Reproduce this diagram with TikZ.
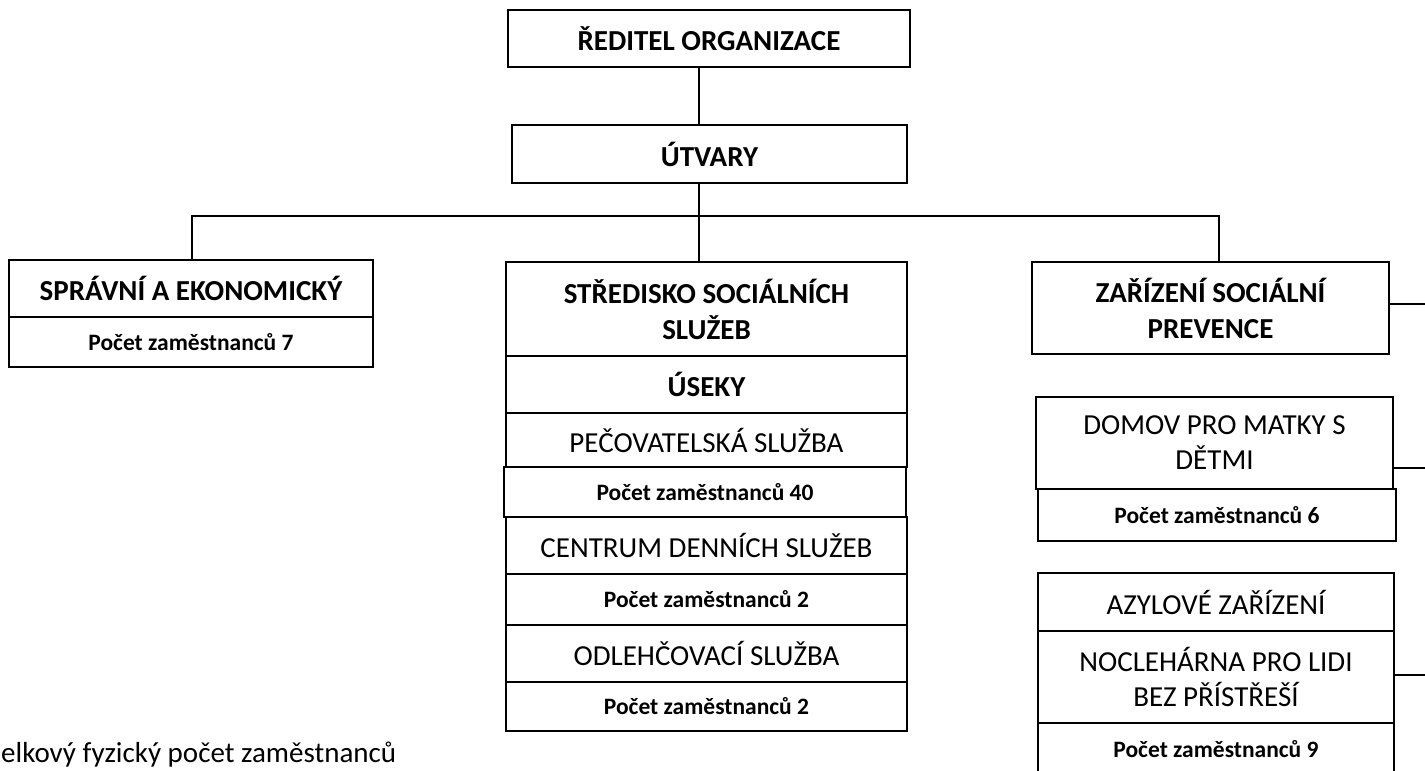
\documentclass[tikz,border=0pt]{standalone}
\usepackage{fontspec}
\setmainfont{Carlito}
\usepackage{tikz}
\usetikzlibrary{positioning,calc}

\tikzset{
    box/.style={draw, line width=1.6pt, inner sep=0pt, align=center},
    head/.style={font=\bfseries\fontsize{29}{36}\selectfont},
    unit/.style={font=\fontsize{29}{35}\selectfont},
    count/.style={font=\bfseries\fontsize{23.5}{28}\selectfont},
    conn/.style={line width=1.6pt}
}

\begin{document}
\begin{tikzpicture}[x=1pt, y=-1pt]
    \useasboundingbox (0,0) rectangle (1425,771);
    \clip (0,0) rectangle (1425,771);

    % Director and units
    \node[box, head, minimum width=402pt, minimum height=57pt] (dir) at (709,38.5) {ŘEDITEL ORGANIZACE};
    \node[box, head, minimum width=395pt, minimum height=58pt] (utv) at (709.5,154) {ÚTVARY};

    % Left branch
    \node[box, head, minimum width=364pt, minimum height=57pt] (sprav) at (191,288.5) {SPRÁVNÍ A EKONOMICKÝ};
    \node[box, count, minimum width=364pt, minimum height=50pt] (spravpoc) at (191,342) {Počet zaměstnanců 7};

    % Middle branch
    \node[box, head, minimum width=401pt, minimum height=94pt] (stred) at (706.5,309) {STŘEDISKO SOCIÁLNÍCH\\SLUŽEB};
    \node[box, head, minimum width=401pt, minimum height=57pt] (useky) at (706.5,384.5) {ÚSEKY};
    \node[box, unit, minimum width=401pt, minimum height=54pt] (pecov) at (706.5,440) {PEČOVATELSKÁ SLUŽBA};
    \node[box, count, minimum width=402pt, minimum height=50pt] (pecovpoc) at (705,492) {Počet zaměstnanců 40};
    \node[box, unit, minimum width=401pt, minimum height=57pt] (centr) at (706.5,545.5) {CENTRUM DENNÍCH SLUŽEB};
    \node[box, count, minimum width=401pt, minimum height=51pt] (centrpoc) at (706.5,599.5) {Počet zaměstnanců 2};
    \node[box, unit, minimum width=401pt, minimum height=57pt] (odleh) at (706.5,653.5) {ODLEHČOVACÍ SLUŽBA};
    \node[box, count, minimum width=401pt, minimum height=49pt] (odlehpoc) at (706.5,706.5) {Počet zaměstnanců 2};

    % Right branch
    \node[box, head, minimum width=357pt, minimum height=92pt] (zariz) at (1210.5,308) {ZAŘÍZENÍ SOCIÁLNÍ\\PREVENCE};
    \node[box, unit, minimum width=357pt, minimum height=92pt] (domov) at (1214.5,443) {DOMOV PRO MATKY S\\DĚTMI};
    \node[box, count, minimum width=358pt, minimum height=52pt] (domovpoc) at (1217,515) {Počet zaměstnanců 6};
    \node[box, unit, minimum width=356pt, minimum height=58pt] (azyl) at (1216,602) {AZYLOVÉ ZAŘÍZENÍ};
    \node[box, unit, minimum width=356pt, minimum height=92pt] (nocl) at (1216,677) {NOCLEHÁRNA PRO LIDI\\BEZ PŘÍSTŘEŠÍ};
    \node[box, count, minimum width=356pt, minimum height=52pt] (noclpoc) at (1216,749) {Počet zaměstnanců 9};

    % Total
    \node[unit, anchor=base west, inner sep=0pt] (celk) at (1,762) {elkový fyzický počet zaměstnanců};

    % Connectors
    \coordinate (trunk) at (699,216);
    \coordinate (lj) at (192,216);
    \coordinate (rj) at (1219,216);
    \coordinate (zs) at ($(zariz.east)+(0,-4)$);
    \coordinate (ds) at ($(domov.south east)+(0,-22)$);
    \coordinate (ns) at ($(nocl.east)+(0,-2)$);
    \coordinate (edge) at (1430,0);
    \draw[conn] (dir.south -| trunk) -- (utv.north -| trunk);
    \draw[conn] (utv.south -| trunk) -- (stred.north -| trunk);
    \draw[conn] (sprav.north -| lj) -- (lj) -- (rj) -- (zariz.north -| rj);
    \foreach \s in {zs,ds,ns}
        \draw[conn] (\s) -- (\s -| edge);
\end{tikzpicture}
\end{document}
